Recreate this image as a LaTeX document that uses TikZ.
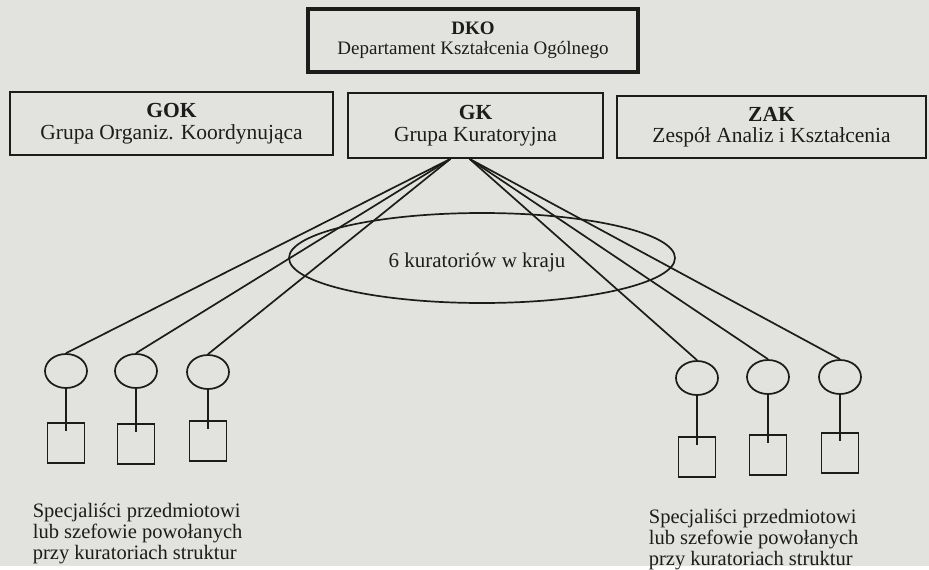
\documentclass[tikz,border=0pt]{standalone}
\usepackage{fontspec}
\setmainfont{Liberation Serif}
\usepackage{tikz}
\usetikzlibrary{shapes.geometric}
\definecolor{paper}{RGB}{226,226,222}
\definecolor{ink}{RGB}{28,28,28}

\begin{document}
\begin{tikzpicture}[x=1pt,y=-1pt,color=ink,line width=1.7pt]
        \fill[paper] (0,0) rectangle (929,566);

        \begin{scope}
            \tikzstyle{every node}=[draw,rectangle,align=center,inner sep=0pt,font=\fontsize{21.5}{21.5}\selectfont]

            \node[line width=3.2pt,minimum width=330pt,minimum height=63pt,font=\fontsize{19}{20.5}\selectfont] (dko) at (473,40.5) {\textbf{DKO}\\Departament Kształcenia Ogólnego};
            \node[minimum width=323pt,minimum height=63pt] (gok) at (171.5,123.5) {\textbf{GOK}\\Grupa Organiz. Koordynująca};
            \node[minimum width=255pt,minimum height=65pt] (gk) at (475.5,125.5) {\textbf{GK}\\Grupa Kuratoryjna};
            \node[minimum width=309pt,minimum height=62pt] (zak) at (771.5,127) {\textbf{ZAK}\\Zespół Analiz i Kształcenia};
        \end{scope}

        \node[draw,ellipse,minimum width=386pt,minimum height=90pt,inner sep=0pt] (kraj) at (482,258) {};
        \node[font=\fontsize{21}{21}\selectfont] (kraj_txt) at (477,262) {6 kuratoriów w kraju};

        \begin{scope}
            \tikzstyle{every node}=[draw,inner sep=0pt]
            \foreach \i/\x/\y/\d in {1/66/371/72, 2/136/371/73, 3/208/372/69, 4/697/378/79, 5/768/377/78, 6/840/377/76} {
                \node[ellipse,minimum width=42pt,minimum height=34pt] (k_\i) at (\x,\y) {};
                \node[rectangle,minimum width=37pt,minimum height=40pt] (s_\i) at (\x,\y+\d) {};
                \draw (k_\i.south) -- ([yshift=-9pt]s_\i.north);
            }
        \end{scope}

        \foreach \i in {1,2,3} {
            \draw ([xshift=-25pt]gk.south) -- (k_\i.north);
        }
        \foreach \i in {4,5,6} {
            \draw ([xshift=-6pt]gk.south) -- (k_\i.north);
        }

        \node[anchor=north west,align=left,inner sep=0pt,font=\fontsize{20.5}{21}\selectfont] (spec_l) at (32,502) {Specjaliści przedmiotowi\\lub szefowie powołanych\\przy kuratoriach struktur};
        \node[anchor=north west,align=left,inner sep=0pt,font=\fontsize{20.5}{21}\selectfont] (spec_r) at (648,508) {Specjaliści przedmiotowi\\lub szefowie powołanych\\przy kuratoriach struktur};

    \end{tikzpicture}
\end{document}
